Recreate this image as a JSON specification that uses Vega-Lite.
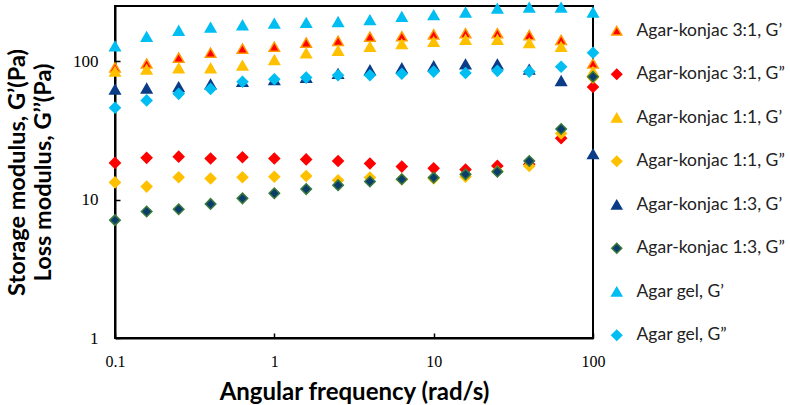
{
  "$schema": "https://vega.github.io/schema/vega-lite/v6.json",
  "autosize": {"type": "none"},
  "padding": {"left": 115, "top": 6, "right": 197, "bottom": 67},
  "width": 478,
  "height": 332,
  "background": "white",
  "config": {
    "view": {"stroke": "black", "strokeWidth": 2},
    "axis": {"grid": false, "domainColor": "black", "domainWidth": 2, "tickColor": "black", "tickWidth": 1.5, "labelColor": "black", "titleColor": "black", "labelFlush": false}
  },
  "data": {"values": [
    {"s": "Agar-konjac 3:1, G’", "f": 0.1, "v": 90}, {"s": "Agar-konjac 3:1, G’", "f": 0.158, "v": 96}, {"s": "Agar-konjac 3:1, G’", "f": 0.251, "v": 106}, {"s": "Agar-konjac 3:1, G’", "f": 0.398, "v": 115}, {"s": "Agar-konjac 3:1, G’", "f": 0.631, "v": 123}, {"s": "Agar-konjac 3:1, G’", "f": 1, "v": 127}, {"s": "Agar-konjac 3:1, G’", "f": 1.585, "v": 136}, {"s": "Agar-konjac 3:1, G’", "f": 2.512, "v": 140}, {"s": "Agar-konjac 3:1, G’", "f": 3.981, "v": 150}, {"s": "Agar-konjac 3:1, G’", "f": 6.31, "v": 151}, {"s": "Agar-konjac 3:1, G’", "f": 10, "v": 156}, {"s": "Agar-konjac 3:1, G’", "f": 15.85, "v": 159}, {"s": "Agar-konjac 3:1, G’", "f": 25.12, "v": 159}, {"s": "Agar-konjac 3:1, G’", "f": 39.81, "v": 154}, {"s": "Agar-konjac 3:1, G’", "f": 63.1, "v": 142}, {"s": "Agar-konjac 3:1, G’", "f": 100, "v": 96},
    {"s": "Agar-konjac 3:1, G”", "f": 0.1, "v": 18.4}, {"s": "Agar-konjac 3:1, G”", "f": 0.158, "v": 20}, {"s": "Agar-konjac 3:1, G”", "f": 0.251, "v": 20.4}, {"s": "Agar-konjac 3:1, G”", "f": 0.398, "v": 19.8}, {"s": "Agar-konjac 3:1, G”", "f": 0.631, "v": 20.2}, {"s": "Agar-konjac 3:1, G”", "f": 1, "v": 19.8}, {"s": "Agar-konjac 3:1, G”", "f": 1.585, "v": 19.5}, {"s": "Agar-konjac 3:1, G”", "f": 2.512, "v": 19}, {"s": "Agar-konjac 3:1, G”", "f": 3.981, "v": 18.2}, {"s": "Agar-konjac 3:1, G”", "f": 6.31, "v": 17.3}, {"s": "Agar-konjac 3:1, G”", "f": 10, "v": 16.8}, {"s": "Agar-konjac 3:1, G”", "f": 15.85, "v": 16.5}, {"s": "Agar-konjac 3:1, G”", "f": 25.12, "v": 17.5}, {"s": "Agar-konjac 3:1, G”", "f": 39.81, "v": 18}, {"s": "Agar-konjac 3:1, G”", "f": 63.1, "v": 27.7}, {"s": "Agar-konjac 3:1, G”", "f": 100, "v": 65},
    {"s": "Agar-konjac 1:1, G’", "f": 0.1, "v": 84}, {"s": "Agar-konjac 1:1, G’", "f": 0.158, "v": 87}, {"s": "Agar-konjac 1:1, G’", "f": 0.251, "v": 89}, {"s": "Agar-konjac 1:1, G’", "f": 0.398, "v": 89}, {"s": "Agar-konjac 1:1, G’", "f": 0.631, "v": 93}, {"s": "Agar-konjac 1:1, G’", "f": 1, "v": 102}, {"s": "Agar-konjac 1:1, G’", "f": 1.585, "v": 114}, {"s": "Agar-konjac 1:1, G’", "f": 2.512, "v": 119}, {"s": "Agar-konjac 1:1, G’", "f": 3.981, "v": 127}, {"s": "Agar-konjac 1:1, G’", "f": 6.31, "v": 133}, {"s": "Agar-konjac 1:1, G’", "f": 10, "v": 138}, {"s": "Agar-konjac 1:1, G’", "f": 15.85, "v": 143}, {"s": "Agar-konjac 1:1, G’", "f": 25.12, "v": 143}, {"s": "Agar-konjac 1:1, G’", "f": 39.81, "v": 135}, {"s": "Agar-konjac 1:1, G’", "f": 63.1, "v": 127}, {"s": "Agar-konjac 1:1, G’", "f": 100, "v": 84},
    {"s": "Agar-konjac 1:1, G”", "f": 0.1, "v": 13.3}, {"s": "Agar-konjac 1:1, G”", "f": 0.158, "v": 12.4}, {"s": "Agar-konjac 1:1, G”", "f": 0.251, "v": 14.5}, {"s": "Agar-konjac 1:1, G”", "f": 0.398, "v": 14.2}, {"s": "Agar-konjac 1:1, G”", "f": 0.631, "v": 14.5}, {"s": "Agar-konjac 1:1, G”", "f": 1, "v": 14.6}, {"s": "Agar-konjac 1:1, G”", "f": 1.585, "v": 14.8}, {"s": "Agar-konjac 1:1, G”", "f": 2.512, "v": 13.8}, {"s": "Agar-konjac 1:1, G”", "f": 3.981, "v": 14.4}, {"s": "Agar-konjac 1:1, G”", "f": 6.31, "v": 14}, {"s": "Agar-konjac 1:1, G”", "f": 10, "v": 14.2}, {"s": "Agar-konjac 1:1, G”", "f": 15.85, "v": 14.6}, {"s": "Agar-konjac 1:1, G”", "f": 25.12, "v": 16}, {"s": "Agar-konjac 1:1, G”", "f": 39.81, "v": 17.5}, {"s": "Agar-konjac 1:1, G”", "f": 63.1, "v": 30}, {"s": "Agar-konjac 1:1, G”", "f": 100, "v": 76},
    {"s": "Agar-konjac 1:3, G’", "f": 0.1, "v": 62.5}, {"s": "Agar-konjac 1:3, G’", "f": 0.158, "v": 63.5}, {"s": "Agar-konjac 1:3, G’", "f": 0.251, "v": 65}, {"s": "Agar-konjac 1:3, G’", "f": 0.398, "v": 68}, {"s": "Agar-konjac 1:3, G’", "f": 0.631, "v": 71}, {"s": "Agar-konjac 1:3, G’", "f": 1, "v": 73}, {"s": "Agar-konjac 1:3, G’", "f": 1.585, "v": 76}, {"s": "Agar-konjac 1:3, G’", "f": 2.512, "v": 81}, {"s": "Agar-konjac 1:3, G’", "f": 3.981, "v": 86}, {"s": "Agar-konjac 1:3, G’", "f": 6.31, "v": 89}, {"s": "Agar-konjac 1:3, G’", "f": 10, "v": 92}, {"s": "Agar-konjac 1:3, G’", "f": 15.85, "v": 95}, {"s": "Agar-konjac 1:3, G’", "f": 25.12, "v": 95}, {"s": "Agar-konjac 1:3, G’", "f": 39.81, "v": 87}, {"s": "Agar-konjac 1:3, G’", "f": 63.1, "v": 72}, {"s": "Agar-konjac 1:3, G’", "f": 100, "v": 21.3},
    {"s": "Agar-konjac 1:3, G”", "f": 0.1, "v": 7.1}, {"s": "Agar-konjac 1:3, G”", "f": 0.158, "v": 8.2}, {"s": "Agar-konjac 1:3, G”", "f": 0.251, "v": 8.5}, {"s": "Agar-konjac 1:3, G”", "f": 0.398, "v": 9.3}, {"s": "Agar-konjac 1:3, G”", "f": 0.631, "v": 10.2}, {"s": "Agar-konjac 1:3, G”", "f": 1, "v": 11.1}, {"s": "Agar-konjac 1:3, G”", "f": 1.585, "v": 11.9}, {"s": "Agar-konjac 1:3, G”", "f": 2.512, "v": 12.7}, {"s": "Agar-konjac 1:3, G”", "f": 3.981, "v": 13.5}, {"s": "Agar-konjac 1:3, G”", "f": 6.31, "v": 14}, {"s": "Agar-konjac 1:3, G”", "f": 10, "v": 14.4}, {"s": "Agar-konjac 1:3, G”", "f": 15.85, "v": 15.2}, {"s": "Agar-konjac 1:3, G”", "f": 25.12, "v": 15.9}, {"s": "Agar-konjac 1:3, G”", "f": 39.81, "v": 19}, {"s": "Agar-konjac 1:3, G”", "f": 63.1, "v": 32.3}, {"s": "Agar-konjac 1:3, G”", "f": 100, "v": 77},
    {"s": "Agar gel, G’", "f": 0.1, "v": 128}, {"s": "Agar gel, G’", "f": 0.158, "v": 150}, {"s": "Agar gel, G’", "f": 0.251, "v": 166}, {"s": "Agar gel, G’", "f": 0.398, "v": 175}, {"s": "Agar gel, G’", "f": 0.631, "v": 182}, {"s": "Agar gel, G’", "f": 1, "v": 187}, {"s": "Agar gel, G’", "f": 1.585, "v": 189}, {"s": "Agar gel, G’", "f": 2.512, "v": 192}, {"s": "Agar gel, G’", "f": 3.981, "v": 198}, {"s": "Agar gel, G’", "f": 6.31, "v": 209}, {"s": "Agar gel, G’", "f": 10, "v": 215}, {"s": "Agar gel, G’", "f": 15.85, "v": 225}, {"s": "Agar gel, G’", "f": 25.12, "v": 240}, {"s": "Agar gel, G’", "f": 39.81, "v": 244}, {"s": "Agar gel, G’", "f": 63.1, "v": 244}, {"s": "Agar gel, G’", "f": 100, "v": 225},
    {"s": "Agar gel, G”", "f": 0.1, "v": 46}, {"s": "Agar gel, G”", "f": 0.158, "v": 52}, {"s": "Agar gel, G”", "f": 0.251, "v": 58}, {"s": "Agar gel, G”", "f": 0.398, "v": 63}, {"s": "Agar gel, G”", "f": 0.631, "v": 71}, {"s": "Agar gel, G”", "f": 1, "v": 74}, {"s": "Agar gel, G”", "f": 1.585, "v": 76}, {"s": "Agar gel, G”", "f": 2.512, "v": 79}, {"s": "Agar gel, G”", "f": 3.981, "v": 79}, {"s": "Agar gel, G”", "f": 6.31, "v": 81}, {"s": "Agar gel, G”", "f": 10, "v": 84}, {"s": "Agar gel, G”", "f": 15.85, "v": 82}, {"s": "Agar gel, G”", "f": 25.12, "v": 85}, {"s": "Agar gel, G”", "f": 39.81, "v": 84}, {"s": "Agar gel, G”", "f": 63.1, "v": 91}, {"s": "Agar gel, G”", "f": 100, "v": 115}
  ]},
  "mark": {"type": "point", "filled": true, "opacity": 1, "fillOpacity": 1, "strokeWidth": 1.5, "size": 110},
  "encoding": {
    "x": {"field": "f", "type": "quantitative", "scale": {"type": "log", "domain": [0.1, 100], "nice": false},
      "axis": {"values": [0.1, 1, 10, 100], "format": "~g", "tickSize": -5, "labelPadding": 20, "labelFont": "Liberation Serif", "labelFontSize": 16, "labelFontWeight": "normal",
        "title": "Angular frequency (rad/s)", "titleFont": "Lato", "titleFontSize": 24, "titleFontWeight": "bold", "titleY": 61, "titleBaseline": "alphabetic"}},
    "y": {"field": "v", "type": "quantitative", "scale": {"type": "log", "domain": [1, 250], "nice": false},
      "axis": {"values": [1, 10, 100], "format": "~g", "tickSize": -5, "labelPadding": 22, "labelFont": "Liberation Serif", "labelFontSize": 17,
        "title": ["Storage modulus, G’(Pa)", "Loss modulus, G’’(Pa)"], "titleFont": "Lato", "titleFontSize": 23.5, "titleFontWeight": "bold", "titleLineHeight": 26, "titleX": -91, "titleY": 166, "titleAngle": -90, "titleAlign": "center", "titleBaseline": "alphabetic"}},
    "shape": {"field": "s", "type": "nominal", "sort": null,
      "scale": {"domain": ["Agar-konjac 3:1, G’", "Agar-konjac 3:1, G”", "Agar-konjac 1:1, G’", "Agar-konjac 1:1, G”", "Agar-konjac 1:3, G’", "Agar-konjac 1:3, G”", "Agar gel, G’", "Agar gel, G”"],
        "range": ["triangle-up", "diamond", "triangle-up", "diamond", "triangle-up", "diamond", "triangle-up", "diamond"]},
      "legend": {"title": null, "orient": "none", "legendX": 493, "legendY": 16, "labelFont": "Lato", "labelFontSize": 17.5, "labelLimit": 0, "labelColor": "#222", "symbolSize": 100, "rowPadding": 24.5, "labelOffset": 11, "symbolStrokeWidth": 1.5}},
    "fill": {"field": "s", "type": "nominal", "sort": null,
      "scale": {"domain": ["Agar-konjac 3:1, G’", "Agar-konjac 3:1, G”", "Agar-konjac 1:1, G’", "Agar-konjac 1:1, G”", "Agar-konjac 1:3, G’", "Agar-konjac 1:3, G”", "Agar gel, G’", "Agar gel, G”"],
        "range": ["#FF0000", "#FF0000", "#FFC000", "#FFC000", "#0B3C87", "#0A3D6B", "#00BEF2", "#00BEF2"]}},
    "stroke": {"field": "s", "type": "nominal", "sort": null,
      "scale": {"domain": ["Agar-konjac 3:1, G’", "Agar-konjac 3:1, G”", "Agar-konjac 1:1, G’", "Agar-konjac 1:1, G”", "Agar-konjac 1:3, G’", "Agar-konjac 1:3, G”", "Agar gel, G’", "Agar gel, G”"],
        "range": ["#FF9A00", "#FF0000", "#FFC000", "#FFC000", "#0B3C87", "#3C7A3C", "#00BEF2", "#00BEF2"]}}
  }
}
